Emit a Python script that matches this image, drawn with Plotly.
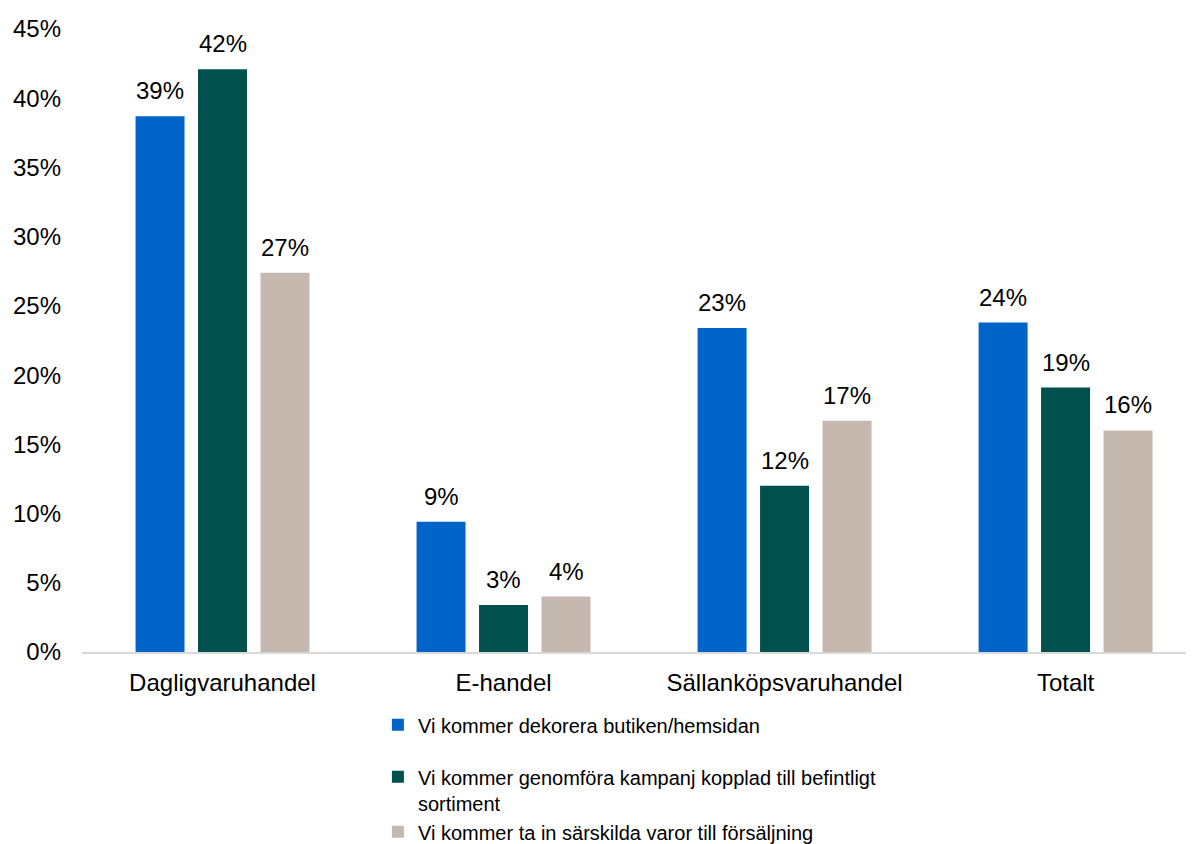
import plotly.graph_objects as go

categories = ["Dagligvaruhandel", "E-handel", "Sällanköpsvaruhandel", "Totalt"]
series_names = [
    "Vi kommer dekorera butiken/hemsidan",
    "Vi kommer genomföra kampanj kopplad till befintligt<br>sortiment",
    "Vi kommer ta in särskilda varor till försäljning",
]
legend_groups = ["g1", "g2", "g2"]
dekorera = [38.7, 9.4, 23.4, 23.8]
kampanj = [42.1, 3.4, 12.0, 19.1]
varor = [27.4, 4.0, 16.7, 16.0]
colors = ["#0064C8", "#00504E", "#C5B8AF"]
y_ticks = [0, 5, 10, 15, 20, 25, 30, 35, 40, 45]

series = [dekorera, kampanj, varor]
FONT = "Liberation Sans, Arial, sans-serif"

fig = go.Figure()
for name, grp, vals, col in zip(series_names, legend_groups, series, colors):
    fig.add_trace(go.Bar(
        x=categories, y=vals, name=name, legendgroup=grp,
        marker=dict(color=col, line=dict(width=0)),
        hoverinfo="y",
    ))

offsets = [-62.5, 0, 62.5]
annotations = []
for vals, dx in zip(series, offsets):
    for c, v in zip(categories, vals):
        annotations.append(dict(
            x=c, y=v, xref="x", yref="y", text=f"{round(v)}%", showarrow=False,
            xshift=dx, yshift=10, yanchor="bottom", xanchor="center",
            font=dict(family=FONT, size=24, color="#000000"),
        ))

# page body adds an 8px offset; the figure is sized to compensate
fig.update_layout(
    width=1186, height=836,
    margin=dict(l=74, r=0, t=21, b=192, autoexpand=False),
    paper_bgcolor="white", plot_bgcolor="white",
    barmode="group", bargap=0.333, bargroupgap=0.216,
    font=dict(family=FONT, size=24, color="#000000"),
    showlegend=True,
    legend=dict(
        x=0.2661, xanchor="left", y=-0.0855, yanchor="top",
        orientation="v", valign="top", traceorder="grouped", tracegroupgap=23,
        font=dict(family=FONT, size=20, color="#000000"),
        bgcolor="rgba(0,0,0,0)", itemsizing="constant",
    ),
    annotations=annotations,
    xaxis=dict(
        range=[-0.5, 3.457], showgrid=False, showline=True,
        linecolor="#D9D9D9", linewidth=2, ticks="",
        tickfont=dict(family=FONT, size=24, color="#000000"),
        ticklabelstandoff=8,
    ),
    yaxis=dict(
        range=[0, 45], tickvals=y_ticks, ticktext=[f"{t}%" for t in y_ticks],
        showgrid=False, showline=False, zeroline=False, ticks="",
        tickfont=dict(family=FONT, size=24, color="#000000"),
        ticklabelstandoff=20,
    ),
)

fig.write_html("out.html")
